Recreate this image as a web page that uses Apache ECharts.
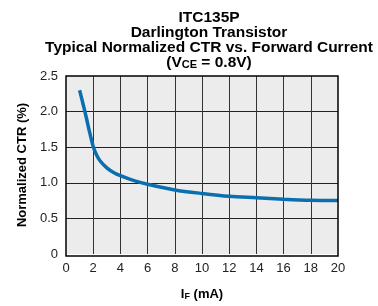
<!DOCTYPE html>
<html>
<head>
<meta charset="utf-8">
<script src="https://cdn.jsdelivr.net/npm/echarts@6/dist/echarts.min.js"></script>
<style>
  html, body { margin: 0; padding: 0; background: #fff; }
  #chart { width: 378px; height: 306px; }
</style>
</head>
<body>
<div id="chart"></div>
<script>
// 正向电流 (mA) 与归一化 CTR
var forwardCurrent = [1, 1.25, 1.5, 1.75, 2, 2.25, 2.5, 3, 3.5, 4, 5, 6, 8, 10, 12, 14, 16, 18, 20];
var normalizedCtr = [2.30, 2.11, 1.91, 1.70, 1.51, 1.39, 1.31, 1.21, 1.145, 1.10, 1.03, 0.98, 0.9, 0.85, 0.81, 0.79, 0.77, 0.755, 0.75];
var xTicks = [0, 2, 4, 6, 8, 10, 12, 14, 16, 18, 20];
var yTicks = [0, 0.5, 1.0, 1.5, 2.0, 2.5];

var chart = echarts.init(document.getElementById('chart'));

var points = forwardCurrent.map(function (x, i) { return [x, normalizedCtr[i]]; });

var font = 'Liberation Sans, Arial, Helvetica, sans-serif';

var option = {
  animation: false,
  title: {
    text: 'ITC135P\nDarlington Transistor\nTypical Normalized CTR vs. Forward Current\n(V{sub|CE} = 0.8V)',
    left: 204,
    textAlign: 'center',
    top: 5,
    textStyle: {
      fontFamily: font,
      fontSize: 15.5,
      fontWeight: 'bold',
      color: '#000',
      lineHeight: 15,
      rich: {
        sub: { fontFamily: font, fontSize: 11, fontWeight: 'bold', color: '#000', padding: [5, 0, 0, 0] }
      }
    }
  },
  grid: { left: 66, top: 76, width: 272, height: 180, show: true, backgroundColor: '#ececec', borderWidth: 0 },
  xAxis: {
    type: 'value',
    min: 0, max: 20, interval: 2,
    name: 'I{sub|F} (mA)',
    nameLocation: 'middle',
    nameGap: 33,
    nameTextStyle: {
      fontFamily: font, fontSize: 13, fontWeight: 'bold', color: '#000',
      rich: { sub: { fontFamily: font, fontSize: 9, fontWeight: 'bold', color: '#000', padding: [5, 0, 0, 0] } }
    },
    axisLine: { show: false },
    axisTick: { show: false },
    axisLabel: {
      fontFamily: font, fontSize: 13, color: '#222', margin: 8,
      formatter: function (v) { return xTicks.indexOf(v) >= 0 ? String(v) : ''; }
    },
    splitLine: { show: true, showMinLine: false, showMaxLine: false, lineStyle: { color: '#333', width: 1 } }
  },
  yAxis: {
    type: 'value',
    min: 0, max: 2.5, interval: 0.5,
    name: 'Normalized CTR (%)',
    nameLocation: 'middle',
    nameGap: 35,
    nameTextStyle: { fontFamily: font, fontSize: 13, fontWeight: 'bold', color: '#000' },
    axisLine: { show: false },
    axisTick: { show: false },
    axisLabel: {
      fontFamily: font, fontSize: 13, color: '#222', margin: 8,
      formatter: function (v) { return v === 0 ? '0' : v.toFixed(1); }
    },
    splitLine: { show: true, showMinLine: false, showMaxLine: false, lineStyle: { color: '#222', width: 1 } }
  },
  series: [{
    type: 'line',
    data: points,
    smooth: 0.3,
    showSymbol: false,
    lineStyle: { color: '#0a6fb0', width: 3.5 }
  }],
  // 外框
  graphic: [{
    type: 'rect',
    shape: { x: 66, y: 76, width: 272, height: 180 },
    style: { fill: 'none', stroke: '#000', lineWidth: 1.5 },
    z: 100
  }]
};

chart.setOption(option);
</script>
</body>
</html>
